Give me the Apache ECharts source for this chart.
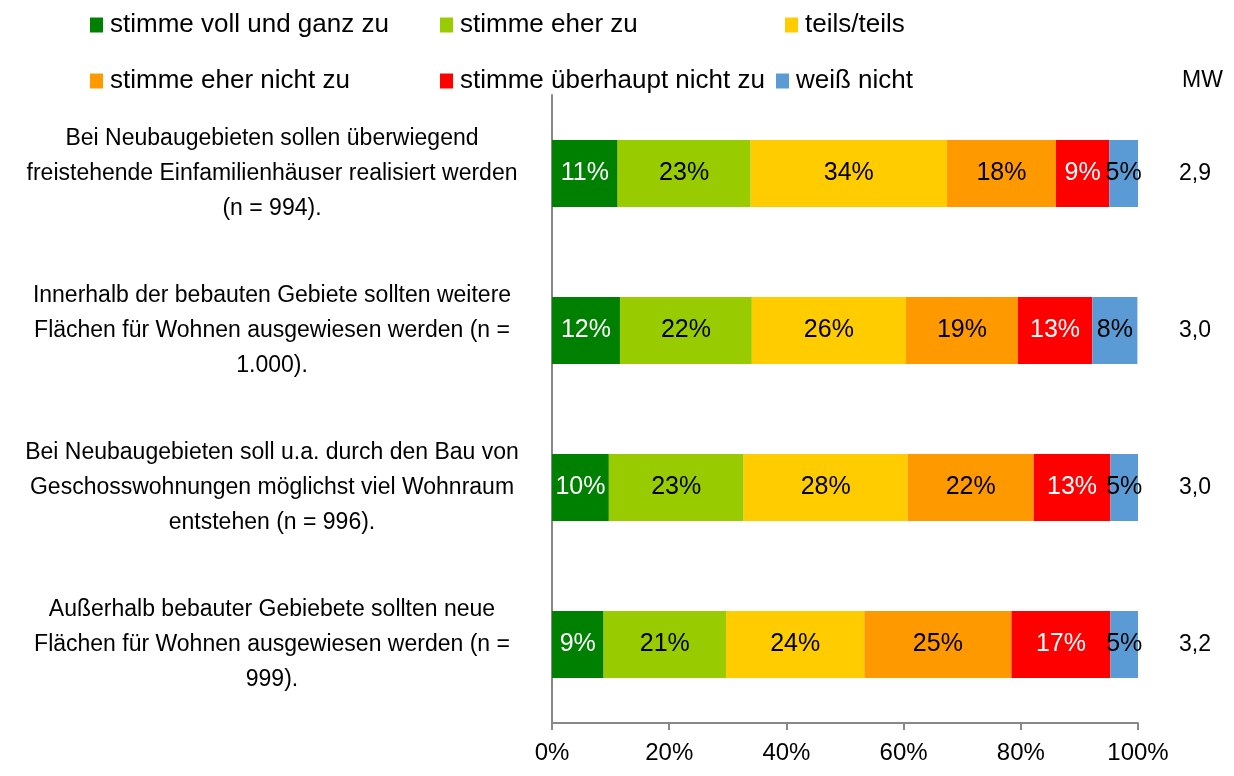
<!DOCTYPE html>
<html>
<head>
<meta charset="utf-8">
<script src="https://cdn.jsdelivr.net/npm/echarts@6/dist/echarts.min.js"></script>
<style>
  html, body { margin: 0; padding: 0; background: #fff; }
  #main { width: 1234px; height: 776px; }
</style>
</head>
<body>
<div id="main"></div>
<script>
var FONT = "'Liberation Sans Narrow', 'Arial Narrow', 'Liberation Sans', sans-serif";

var categories = [
  'Bei Neubaugebieten sollen überwiegend\nfreistehende Einfamilienhäuser realisiert werden\n(n = 994).',
  'Innerhalb der bebauten Gebiete sollten weitere\nFlächen für Wohnen ausgewiesen werden (n =\n1.000).',
  'Bei Neubaugebieten soll u.a. durch den Bau von\nGeschosswohnungen möglichst viel Wohnraum\nentstehen (n = 996).',
  'Außerhalb bebauter Gebiebete sollten neue\nFlächen für Wohnen ausgewiesen werden (n =\n999).'
];
var meanValues = ['2,9', '3,0', '3,0', '3,2'];
var xTicks = [0, 20, 40, 60, 80, 100];

var seriesNames = ['stimme voll und ganz zu', 'stimme eher zu', 'teils/teils',
  'stimme eher nicht zu', 'stimme überhaupt nicht zu', 'weiß nicht'];
var colors = ['#008000', '#99CC00', '#FFCC00', '#FF9900', '#FF0000', '#5B9BD5'];
var labelColors = ['#fff', '#000', '#000', '#000', '#fff', '#000'];

// measured shares (bar length)
var vollGanz   = [11.2, 11.6, 9.7, 8.8];
var eherZu     = [22.7, 22.5, 23.0, 20.9];
var teils      = [33.5, 26.3, 28.0, 23.6];
var eherNicht  = [18.6, 19.1, 21.5, 25.1];
var ueberhaupt = [9.1, 12.7, 13.1, 16.9];
var weissNicht = [4.9, 7.7, 4.7, 4.7];
var values = [vollGanz, eherZu, teils, eherNicht, ueberhaupt, weissNicht];

// printed labels
var vollGanzTxt   = [11, 12, 10, 9];
var eherZuTxt     = [23, 22, 23, 21];
var teilsTxt      = [34, 26, 28, 24];
var eherNichtTxt  = [18, 19, 22, 25];
var ueberhauptTxt = [9, 13, 13, 17];
var weissNichtTxt = [5, 8, 5, 5];
var printed = [vollGanzTxt, eherZuTxt, teilsTxt, eherNichtTxt, ueberhauptTxt, weissNichtTxt];

// legend slots (left, top)
var legendPos = [[85, 7], [435, 7], [780, 7], [85, 63], [435, 63], [771, 63]];

var chart = echarts.init(document.getElementById('main'), null, { renderer: 'canvas' });

var legends = seriesNames.map(function (name, i) {
  return {
    data: [name],
    left: legendPos[i][0],
    top: legendPos[i][1],
    itemWidth: 13,
    itemHeight: 15,
    itemGap: 0,
    icon: 'rect',
    selectedMode: false,
    textStyle: { fontFamily: FONT, fontSize: 26, color: '#000', padding: [0, 0, 0, 2] }
  };
});

var series = seriesNames.map(function (name, i) {
  return {
    name: name,
    type: 'bar',
    stack: 'total',
    barWidth: 67,
    itemStyle: { color: colors[i] },
    label: {
      show: true,
      position: 'inside',
      color: labelColors[i],
      fontFamily: FONT,
      fontSize: 25,
      formatter: function (p) { return printed[i][p.dataIndex] + '%'; }
    },
    data: values[i]
  };
});

var option = {
  animation: false,
  legend: legends,
  grid: { left: 552, right: 96, top: 95, bottom: 53 },
  xAxis: {
    type: 'value',
    min: 0,
    max: 100,
    interval: 20,
    axisLine: { show: true, lineStyle: { color: '#888', width: 2 } },
    axisTick: { show: true, length: 7, lineStyle: { color: '#888', width: 2 } },
    splitLine: { show: false },
    axisLabel: {
      margin: 18,
      fontFamily: FONT,
      fontSize: 24,
      color: '#000',
      formatter: function (v) { return xTicks.indexOf(v) >= 0 ? v + '%' : ''; }
    }
  },
  yAxis: [{
    type: 'category',
    data: categories,
    inverse: true,
    axisLine: { show: true, lineStyle: { color: '#888', width: 2 } },
    axisTick: { show: false },
    axisLabel: {
      margin: 280,
      align: 'center',
      fontFamily: FONT,
      fontSize: 23,
      lineHeight: 35,
      color: '#000'
    }
  }, {
    type: 'category',
    data: meanValues,
    inverse: true,
    position: 'right',
    axisLine: { show: false },
    axisTick: { show: false },
    axisLabel: {
      margin: 57,
      align: 'center',
      fontFamily: FONT,
      fontSize: 23,
      color: '#000'
    }
  }],
  title: {
    text: 'MW',
    left: 1177,
    top: 64,
    textStyle: { fontFamily: FONT, fontSize: 23, fontWeight: 'normal', color: '#000' }
  },
  series: series
};

chart.setOption(option);
</script>
</body>
</html>
